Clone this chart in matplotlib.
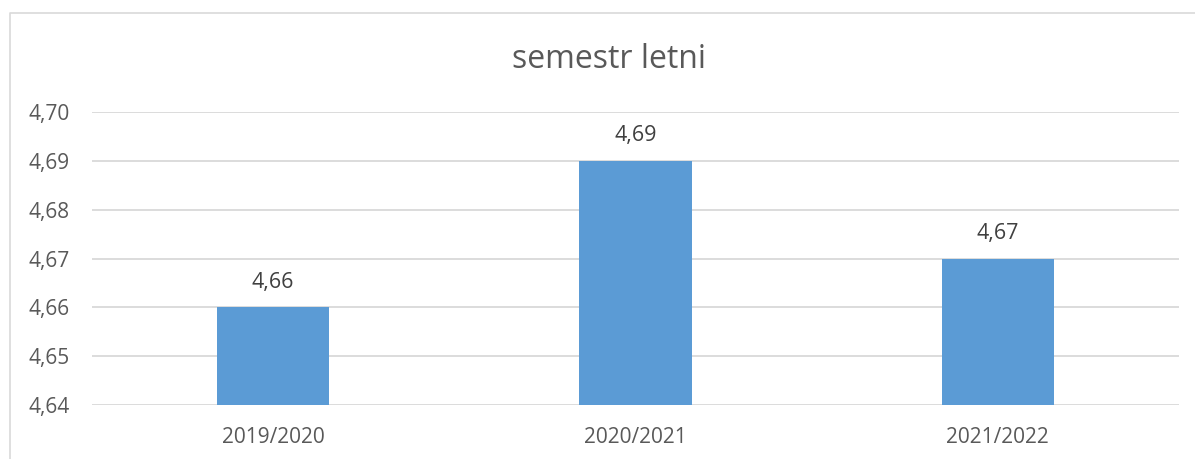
import matplotlib
matplotlib.use("Agg")
import matplotlib.pyplot as plt
from matplotlib.lines import Line2D

categories = ["2019/2020", "2020/2021", "2021/2022"]
values = [4.66, 4.69, 4.67]
yticks = [4.64, 4.65, 4.66, 4.67, 4.68, 4.69, 4.70]
title = "semestr letni"

plt.rcParams['font.family'] = ['Open Sans', 'DejaVu Sans']
txt = "#595959"
W, H = 1195, 459
fig = plt.figure(figsize=(W/100, H/100), dpi=100)
ax = fig.add_axes([92/W, 1-405/H, (1179-92)/W, (405-112)/H])

x = range(len(categories))
ax.bar(x, [v - yticks[0] for v in values], bottom=yticks[0], width=0.31, color="#5B9BD5", zorder=3)
for i, v in zip(x, values):
    ax.text(i, v + 0.0051, f"{v:.2f}".replace(".", ","), ha="center", va="center",
            fontsize=15.5, color="#404040")

ax.set_xlim(-0.5, len(categories) - 0.5)
ax.set_ylim(yticks[0], yticks[-1])
ax.set_yticks(yticks)
ax.set_yticklabels([f"{t:.2f}".replace(".", ",") for t in yticks])
ax.set_xticks(list(x))
ax.set_xticklabels(categories)
ax.tick_params(axis="both", length=0, colors=txt, labelsize=15)
ax.tick_params(axis="y", pad=16)
ax.tick_params(axis="x", pad=16)
ax.grid(axis="y", color="#D9D9D9", linewidth=1.3, zorder=0)
for s in ax.spines.values():
    s.set_visible(False)

fig.text(609/W, 1-60/H, title, ha="center", va="center", fontsize=23, color=txt)

fig.add_artist(Line2D([10/W, 10/W, 1], [0, 1-13/H, 1-13/H], color="#D9D9D9", linewidth=1.2,
                      transform=fig.transFigure))

fig.savefig("out.png", dpi=100)
